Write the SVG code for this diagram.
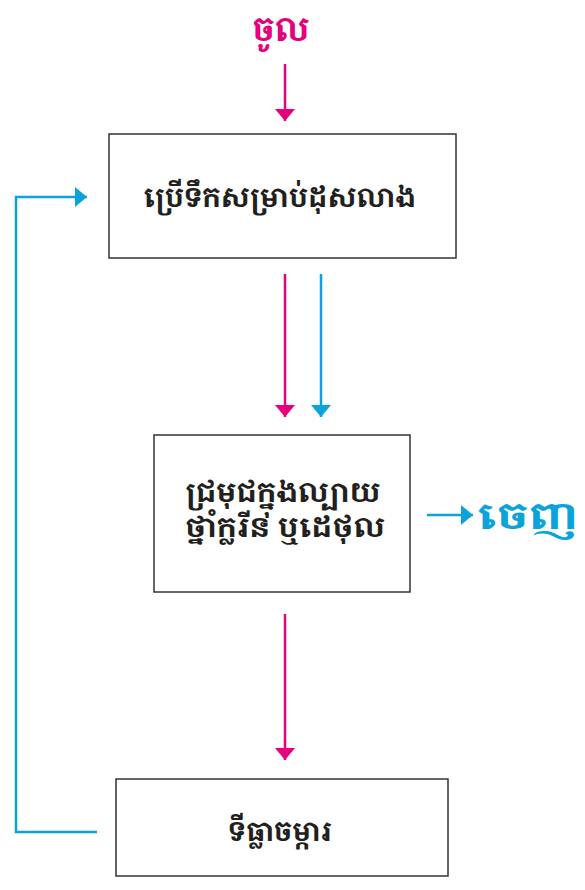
<svg xmlns="http://www.w3.org/2000/svg" width="585" height="890" viewBox="0 0 585 890">
<defs>
<style>
.box{fill:#fff;stroke:#333;stroke-width:1.5}
.t{font-family:"Noto Serif Khmer","Khmer OS","Noto Sans Khmer","Noto Sans",sans-serif;font-size:27px;font-weight:bold;fill:#231f20;text-anchor:middle}
.lbl{font-family:"Noto Serif Khmer","Khmer OS","Noto Sans Khmer","Noto Sans",sans-serif;font-weight:bold}
.mg{stroke:#e5007d;stroke-width:2.5;fill:none}
.bl{stroke:#0ba3d9;stroke-width:2.5;fill:none}
</style>
<marker id="am" viewBox="0 0 12 20" refX="12" refY="10" markerWidth="12" markerHeight="20" markerUnits="userSpaceOnUse" orient="auto"><path d="M0,0L12,10L0,20Z" fill="#e5007d"/></marker>
<marker id="ab" viewBox="0 0 12 20" refX="12" refY="10" markerWidth="12" markerHeight="20" markerUnits="userSpaceOnUse" orient="auto"><path d="M0,0L12,10L0,20Z" fill="#0ba3d9"/></marker>
</defs>
<g id="in"><text class="lbl" x="281" y="41" font-size="33" text-anchor="middle" fill="#e5007d">ចូល</text></g>
<g id="out"><text class="lbl" x="478" y="529" font-size="36" fill="#0ba3d9" textLength="100" lengthAdjust="spacingAndGlyphs">ចេញ</text></g>
<g id="n1"><rect class="box" x="109" y="134" width="347" height="124"/><text class="t" x="280" y="207" textLength="272" lengthAdjust="spacingAndGlyphs">ប្រើទឹកសម្រាប់ដុសលាង</text></g>
<g id="n2"><rect class="box" x="154" y="435" width="256" height="157"/><text class="t" x="283" y="502" textLength="195" lengthAdjust="spacingAndGlyphs">ជ្រមុជក្នុងល្បាយ</text><text class="t" x="285" y="537" textLength="200" lengthAdjust="spacingAndGlyphs">ថ្នាំក្លរីន ឬដេថុល</text></g>
<g id="n3"><rect class="box" x="116" y="779" width="332" height="97"/><text class="t" x="280" y="841">ទីធ្លាចម្ការ</text></g>
<g id="connectors">
<path class="mg" d="M285,64V121" marker-end="url(#am)"/>
<path class="mg" d="M285,274V417" marker-end="url(#am)"/>
<path class="bl" d="M321,274V417" marker-end="url(#ab)"/>
<path class="mg" d="M285,614V760" marker-end="url(#am)"/>
<path class="bl" d="M427,515H473" marker-end="url(#ab)"/>
<path class="bl" d="M97,832H16V197H87" marker-end="url(#ab)"/>
</g>
</svg>
